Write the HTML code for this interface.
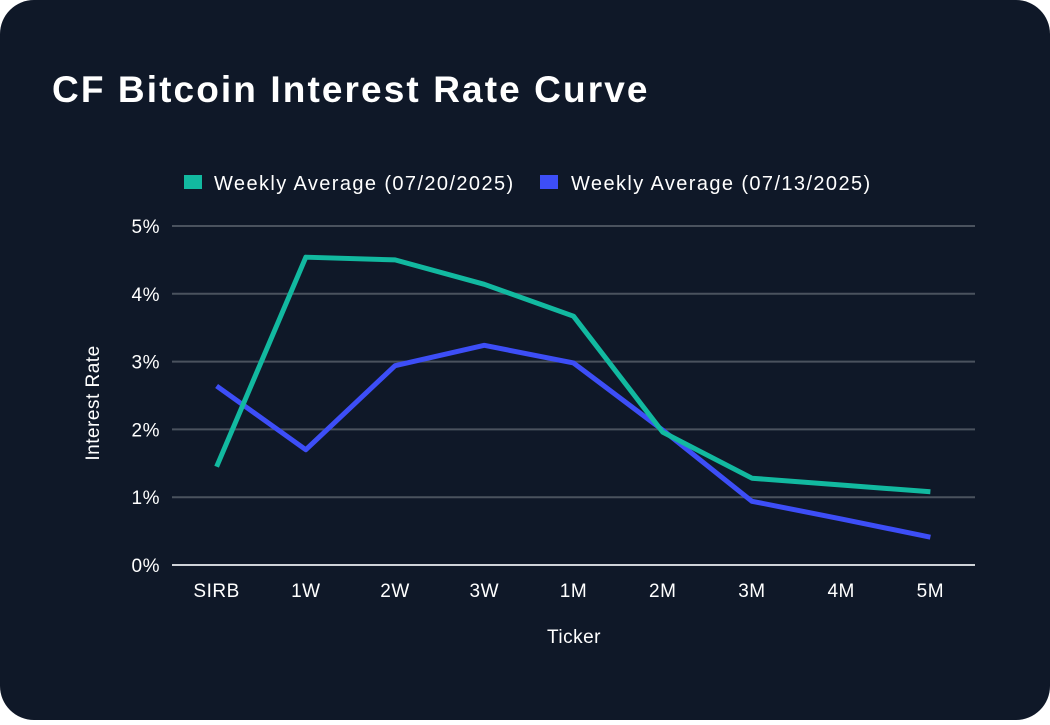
<!DOCTYPE html>
<html><head><meta charset="utf-8">
<style>
html,body{margin:0;padding:0;background:#fff;}
body{width:1050px;height:720px;overflow:hidden;font-family:"Liberation Sans",Arial,sans-serif;}
.card{position:absolute;left:0;top:0;width:1050px;height:720px;background:#0f1828;border-radius:34px;}
</style></head>
<body>
<div class="card">
<svg id="chart" width="1050" height="720">
<text x="52" y="102" fill="#fff" font-size="37" font-weight="bold" letter-spacing="2.1" font-family="Liberation Sans, Arial, sans-serif">CF Bitcoin Interest Rate Curve</text>
<g>
<rect x="184" y="175" width="18" height="14" fill="#12b9a0"/>
<text x="214" y="190" fill="#fff" font-size="20" letter-spacing="1.4">Weekly Average (07/20/2025)</text>
<rect x="540" y="175" width="18" height="14" fill="#3d4ef7"/>
<text x="571" y="190" fill="#fff" font-size="20" letter-spacing="1.4">Weekly Average (07/13/2025)</text>
</g>
<text transform="translate(99,403) rotate(-90)" text-anchor="middle" fill="#fff" font-size="19" letter-spacing="0.5">Interest Rate</text>
<text x="574" y="643" text-anchor="middle" fill="#fff" font-size="19" letter-spacing="0.5">Ticker</text>
</svg>
</div>
<script>
const categories=["SIRB","1W","2W","3W","1M","2M","3M","4M","5M"];
const series0720=[1.45,4.54,4.50,4.14,3.67,1.96,1.28,1.18,1.08];
const series0713=[2.64,1.70,2.94,3.24,2.98,1.99,0.94,0.68,0.41];
const yTicks=[0,1,2,3,4,5];
const yTickLabels=["0%","1%","2%","3%","4%","5%"];

const NS="http://www.w3.org/2000/svg";
const svg=document.getElementById("chart");
const x0=172,x1=975,y0=565,y1=226;
const step=(x1-x0)/categories.length;
const xs=i=>x0+step*(i+0.5);
const ys=v=>y0-(v/5)*(y0-y1);
function mk(tag,attrs){const e=document.createElementNS(NS,tag);for(const k in attrs)e.setAttribute(k,attrs[k]);return e;}

yTicks.forEach((t,i)=>{
  const l=mk("line",{x1:x0,x2:x1,y1:ys(t),y2:ys(t),stroke:t===0?"#cfd3d8":"#4a525e","stroke-width":2});
  
  
  svg.appendChild(l);
  const tx=mk("text",{x:160,y:ys(t)+7,"text-anchor":"end",fill:"#fff","font-size":19,"letter-spacing":0.5});
  tx.textContent=yTickLabels[i];
  
  
  svg.appendChild(tx);
});
categories.forEach((c,i)=>{
  const tx=mk("text",{x:xs(i),y:597,"text-anchor":"middle",fill:"#fff","font-size":19,"letter-spacing":0.5});
  tx.textContent=c;
  
  
  svg.appendChild(tx);
});
function line(data,color,name){
  const p=mk("polyline",{points:data.map((v,i)=>xs(i)+","+ys(v)).join(" "),fill:"none",stroke:color,"stroke-width":5,"stroke-linejoin":"round"});
  
  
  svg.appendChild(p);
}
line(series0713,"#3d4ef7","line-0713");
line(series0720,"#12b9a0","line-0720");
</script>
</body></html>
